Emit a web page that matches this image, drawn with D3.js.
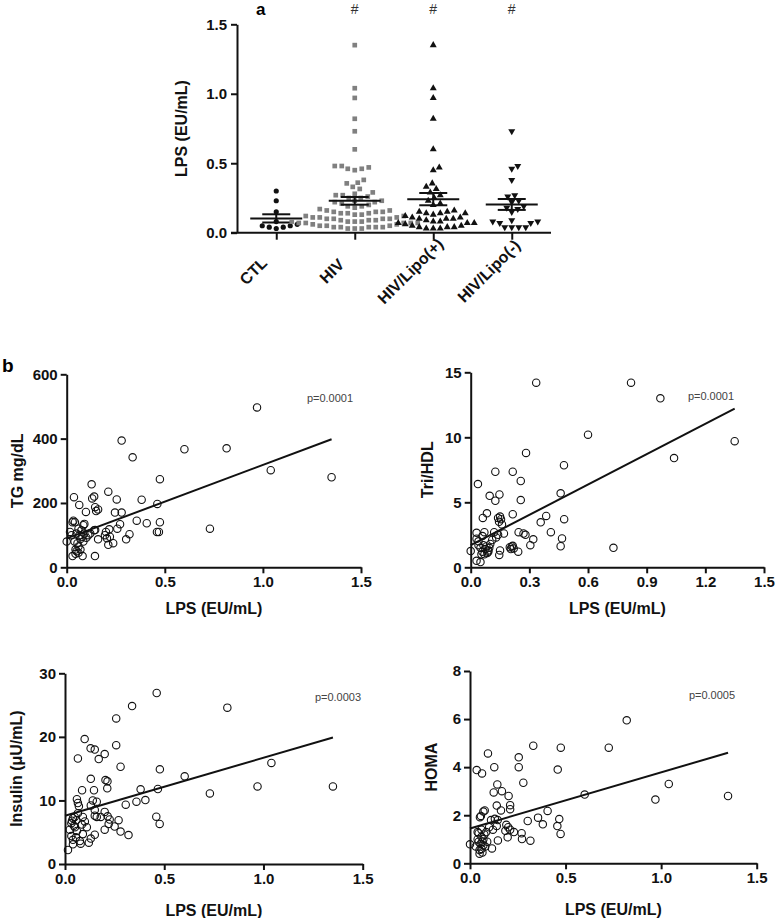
<!DOCTYPE html>
<html>
<head>
<meta charset="utf-8">
<script src="https://cdnjs.cloudflare.com/ajax/libs/d3/7.8.5/d3.min.js"></script>
<style>
  body { margin: 0; background: #fff; }
  svg { font-family: "Liberation Sans", Arial, sans-serif; }
  .axis .domain, .axis line { stroke: #111; stroke-width: 2; }
  .axis text { font-size: 15px; font-weight: bold; fill: #111; }
  .title { font-size: 16px; font-weight: bold; fill: #111; }
</style>
</head>
<body>
<svg id="fig" width="775" height="918"></svg>
<script>
// ---- panel a: LPS by group ----
var groups = ["CTL", "HIV", "HIV/Lipo(+)", "HIV/Lipo(-)"];
var ctl = [0.30, 0.23, 0.15, 0.08, 0.06, 0.05, 0.05, 0.04, 0.04, 0.03];
var lipoPos = [1.35, 1.04, 0.97, 0.82, 0.60, 0.47, 0.45, 0.355, 0.33, 0.315, 0.29, 0.27, 0.25, 0.23,
  0.21, 0.20, 0.16, 0.15, 0.15, 0.14, 0.14, 0.14, 0.13, 0.12, 0.11, 0.11, 0.10, 0.10, 0.10, 0.09,
  0.08, 0.08, 0.07, 0.07, 0.07, 0.06, 0.05, 0.05, 0.04, 0.04, 0.04, 0.03, 0.03, 0.03];
var lipoNeg = [0.73, 0.48, 0.46, 0.38, 0.27, 0.26, 0.23, 0.22, 0.19, 0.18, 0.17, 0.15, 0.09, 0.08,
  0.08, 0.07, 0.07, 0.04, 0.04, 0.04, 0.04];
var hiv = [1.35, 1.04, 0.97, 0.82, 0.73, 0.60, 0.48, 0.48, 0.47, 0.46, 0.46, 0.45, 0.38, 0.36, 0.355,
  0.33, 0.315, 0.29, 0.28, 0.27, 0.27, 0.26, 0.25, 0.25, 0.23, 0.23, 0.22, 0.22, 0.21, 0.20, 0.19,
  0.19, 0.18, 0.17, 0.16, 0.16, 0.15, 0.15, 0.15, 0.14, 0.14, 0.14, 0.13, 0.13, 0.12, 0.12, 0.11,
  0.11, 0.11, 0.10, 0.10, 0.10, 0.10, 0.09, 0.09, 0.09, 0.08, 0.08, 0.08, 0.08, 0.07, 0.07, 0.07,
  0.07, 0.07, 0.06, 0.06, 0.05, 0.05, 0.05, 0.04, 0.04, 0.04, 0.04, 0.04, 0.03, 0.03, 0.03];
var groupValues = [ctl, hiv, lipoPos, lipoNeg];
var groupMarks = ["", "#", "#", "#"];
var lpsTicks = [0, 0.5, 1.0, 1.5];

// ---- panel b: correlations with LPS ----
var tgPts = [[0.28,394],[0.336,342],[0.60,367],[0.815,370],[0.97,497],[1.04,302],[1.35,280],[0.73,120],
  [0.475,274],[0.127,258],[0.212,235],[0.037,218],[0.13,214],[0.14,220],[0.255,211],[0.382,210],
  [0.462,197],[0.064,194],[0.145,187],[0.16,180],[0.15,175],[0.098,172],[0.246,170],[0.28,170],
  [0.034,145],[0.042,140],[0.357,145],[0.408,137],[0.475,140],[0.085,131],[0.272,134],[0.258,120],
  [0.217,118],[0.46,110],[0.47,110],[0.017,110],[0.145,116],[0.05,105],[0.065,100],[0.08,95],
  [0.09,105],[0.07,88],[0.195,100],[0.205,90],[0.22,95],[0.32,103],[0.303,87],[0.237,75],[0.212,70],
  [0.16,87],[0.0,80],[0.04,80],[0.055,75],[0.06,65],[0.045,55],[0.05,50],[0.03,35],[0.081,35],
  [0.144,35],[0.06,45],[0.11,100],[0.12,105],[0.1,92],[0.075,115],[0.025,100],[0.085,80],[0.14,115],
  [0.2,110],[0.03,140],[0.06,120],[0.09,135],[0.045,42],[0.07,55]];
var triPts = [[1.35,9.7],[1.04,8.4],[0.97,13.0],[0.82,14.2],[0.73,1.5],[0.60,10.2],[0.335,14.2],
  [0.283,8.8],[0.477,7.85],[0.126,7.35],[0.215,7.35],[0.256,6.64],[0.037,6.4],[0.46,5.69],[0.147,5.6],
  [0.097,5.5],[0.126,5.12],[0.256,5.17],[0.083,4.15],[0.062,3.8],[0.14,3.8],[0.15,3.9],[0.145,3.5],
  [0.16,3.3],[0.215,4.08],[0.358,3.46],[0.386,3.95],[0.478,3.7],[0.41,2.7],[0.03,2.65],[0.07,2.7],
  [0.12,2.7],[0.17,2.6],[0.28,2.5],[0.32,2.15],[0.305,1.7],[0.467,2.22],[0.46,1.62],[0.245,2.7],
  [0.27,2.6],[0.2,1.55],[0.21,1.6],[0.22,1.45],[0.205,1.4],[0.215,1.65],[0.243,1.2],[0.146,0.95],
  [0.15,1.3],[0.05,1.5],[0.06,1.2],[0.07,1.0],[0.075,1.4],[0.08,1.6],[0.085,1.1],[0.09,1.3],[0.095,1.5],
  [0.065,1.7],[0.055,1.0],[0.1,1.8],[0.0,1.25],[0.03,0.5],[0.05,0.4],[0.03,2.2],[0.04,2.0],[0.06,2.4],
  [0.11,2.1],[0.13,2.3],[0.14,2.5],[0.155,3.7],[0.09,1.2],[0.04,1.7]];
var insPts = [[0.462,26.9],[0.338,24.85],[0.818,24.6],[0.258,22.9],[0.099,19.66],[0.129,18.2],[0.15,18.0],
  [0.258,18.7],[0.2,17.3],[0.065,16.6],[0.17,16.5],[0.28,15.3],[0.478,14.9],[0.603,13.8],[0.13,13.4],
  [0.204,13.2],[0.214,13.0],[0.213,11.9],[0.086,11.6],[0.146,11.6],[0.381,11.75],[0.468,11.8],
  [0.73,11.1],[0.97,12.2],[1.04,15.9],[1.35,12.2],[0.36,9.8],[0.405,10.05],[0.306,9.33],[0.06,10.2],
  [0.065,9.6],[0.07,9.1],[0.14,10.0],[0.16,9.8],[0.13,9.2],[0.2,8.2],[0.215,7.5],[0.225,7.0],[0.18,7.4],
  [0.15,7.6],[0.46,7.45],[0.477,6.3],[0.27,6.9],[0.28,5.1],[0.32,4.55],[0.25,5.9],[0.22,6.3],[0.2,5.4],
  [0.15,4.6],[0.13,4.0],[0.12,3.35],[0.09,4.7],[0.079,3.2],[0.04,3.1],[0.032,4.4],[0.024,5.4],[0.032,6.4],
  [0.04,7.2],[0.049,7.4],[0.057,6.9],[0.065,8.0],[0.09,7.4],[0.015,2.2],[0.15,8.5],[0.16,7.4],[0.05,5.8],
  [0.06,5.2],[0.045,6.0],[0.1,6.7],[0.075,3.6],[0.055,4.2],[0.11,5.8],[0.04,3.8],[0.085,6.2],[0.035,6.8]];
var homaPts = [[0.726,4.81],[0.331,4.89],[0.475,4.81],[0.094,4.57],[0.255,4.41],[0.255,4.0],[0.459,3.9],
  [0.035,3.88],[0.063,3.74],[0.127,4.0],[0.279,3.35],[0.143,3.28],[0.124,2.95],[0.167,3.0],[0.202,2.8],
  [0.6,2.86],[0.82,5.95],[0.97,2.65],[1.04,3.3],[1.35,2.8],[0.14,2.4],[0.21,2.42],[0.21,2.25],[0.162,2.2],
  [0.077,2.2],[0.07,2.15],[0.057,1.97],[0.052,1.92],[0.406,2.18],[0.356,1.9],[0.381,1.62],[0.467,1.84],
  [0.457,1.55],[0.474,1.22],[0.302,1.76],[0.11,1.8],[0.13,1.85],[0.145,1.8],[0.19,1.6],[0.2,1.5],
  [0.21,1.4],[0.185,1.35],[0.23,1.3],[0.27,1.25],[0.272,1.01],[0.316,0.94],[0.197,1.08],[0.146,0.95],
  [0.115,0.62],[0.0,0.79],[0.04,1.3],[0.045,0.9],[0.055,0.8],[0.065,0.9],[0.05,0.55],[0.06,0.6],
  [0.07,0.75],[0.04,1.0],[0.06,1.1],[0.07,1.0],[0.075,1.2],[0.06,1.4],[0.045,1.25],[0.05,0.4],
  [0.08,0.7],[0.09,0.9],[0.085,1.3],[0.03,0.7],[0.1,1.5],[0.12,1.4],[0.14,1.55],[0.065,0.45]];

var tgFit = [[0, 90], [1.35, 398]];
var triFit = [[0, 1.7], [1.35, 12.2]];
var insFit = [[0, 7.6], [1.35, 19.9]];
var homaFit = [[0, 1.45], [1.35, 4.6]];

var svg = d3.select("#fig");

// ---------- panel a ----------
var ax = d3.scalePoint().domain(groups).range([237, 551]).padding(0.5);
var ay = d3.scaleLinear().domain([0, 1.5]).range([232.7, 24.3]);

svg.append("g").attr("class", "axis").attr("transform", "translate(237,0)")
  .call(d3.axisLeft(ay).tickValues(lpsTicks).tickFormat(d3.format(".1f")).tickSize(6).tickSizeOuter(0).tickPadding(4));
var xa = svg.append("g").attr("class", "axis").attr("transform", "translate(0,232.7)")
  .call(d3.axisBottom(ax).tickSize(7).tickSizeOuter(0).tickFormat(""));
xa.select(".domain").attr("d", "M231,0H551");

groups.forEach(function (g) {
  svg.append("text").attr("class", "title")
    .attr("transform", "translate(" + (ax(g) - 19) + ",275) rotate(-45)")
    .attr("text-anchor", "middle").text(g);
});

svg.append("text").attr("class", "title")
  .attr("transform", "translate(187," + ay(0.75) + ") rotate(-90)")
  .attr("text-anchor", "middle").text("LPS (EU/mL)");

svg.append("text").attr("x", 256).attr("y", 15).attr("font-size", 17).attr("font-weight", "bold").text("a");

var shapes = [d3.symbolCircle, d3.symbolSquare, d3.symbolTriangle, d3.symbolTriangle];
var fills = ["#111", "#808080", "#111", "#111"];

function swarm(vals, y, d) {
  var out = [];
  vals.slice().sort(d3.ascending).forEach(function (v) {
    var py = y(v);
    for (var i = 0; i < 200; i++) {
      var dx = (i % 2 ? 1 : -1) * Math.ceil(i / 2);
      var ok = out.every(function (p) {
        return (p.dx - dx) * (p.dx - dx) + (p.py - py) * (p.py - py) >= d * d;
      });
      if (ok) { out.push({ v: v, dx: dx, py: py }); break; }
    }
  });
  return out;
}

groupValues.forEach(function (vals, i) {
  var cx = ax(groups[i]);
  var pts = swarm(vals, ay, 6.4);
  var sym = d3.symbol().type(shapes[i]).size(i === 1 ? 22 : 21);
  svg.append("g").selectAll("path").data(pts).enter().append("path")
    .attr("d", sym)
    .attr("transform", function (p) {
      return "translate(" + (cx + p.dx) + "," + p.py + ")" + (i === 3 ? " rotate(180)" : "");
    })
    .attr("fill", fills[i]);

  var m = d3.mean(vals), se = d3.deviation(vals) / Math.sqrt(vals.length);
  var gE = svg.append("g").attr("stroke", "#111").attr("stroke-width", 2);
  gE.append("line").attr("x1", cx).attr("x2", cx).attr("y1", ay(m - se)).attr("y2", ay(m + se));
  gE.append("line").attr("x1", cx - 26).attr("x2", cx + 26).attr("y1", ay(m)).attr("y2", ay(m));
  [m - se, m + se].forEach(function (v) {
    gE.append("line").attr("x1", cx - 14).attr("x2", cx + 14).attr("y1", ay(v)).attr("y2", ay(v));
  });

  if (groupMarks[i]) {
    svg.append("text").attr("x", cx).attr("y", 14).attr("text-anchor", "middle")
      .attr("font-size", 14).attr("fill", "#333").text(groupMarks[i]);
  }
});

// ---------- panel b ----------
svg.append("text").attr("x", 2).attr("y", 372).attr("font-size", 19).attr("font-weight", "bold").text("b");

function scatter(c) {
  var x = d3.scaleLinear().domain([0, 1.5]).range([c.left, c.right]);
  var y = d3.scaleLinear().domain([0, c.ymax]).range([c.bottom, c.top]);
  svg.append("g").attr("class", "axis").attr("transform", "translate(0," + c.bottom + ")")
    .call(d3.axisBottom(x).tickValues(c.xticks).tickFormat(d3.format(".1f")).tickSize(6).tickSizeOuter(0).tickPadding(3));
  svg.append("g").attr("class", "axis").attr("transform", "translate(" + c.left + ",0)")
    .call(d3.axisLeft(y).tickValues(c.yticks).tickSize(6).tickSizeOuter(0).tickPadding(3));

  svg.append("g").selectAll("circle").data(c.pts).enter().append("circle")
    .attr("cx", function (d) { return x(d[0]); })
    .attr("cy", function (d) { return y(d[1]); })
    .attr("r", 3.7)
    .attr("fill", "none").attr("stroke", "#111").attr("stroke-width", 1.1);

  svg.append("line")
    .attr("x1", x(c.fit[0][0])).attr("y1", y(c.fit[0][1]))
    .attr("x2", x(c.fit[1][0])).attr("y2", y(c.fit[1][1]))
    .attr("stroke", "#111").attr("stroke-width", 2);

  svg.append("text").attr("x", c.pX).attr("y", c.top + 28).attr("text-anchor", "middle")
    .attr("font-size", 11).attr("fill", "#444").text(c.p);

  svg.append("text").attr("class", "title")
    .attr("x", (c.left + c.right) / 2).attr("y", c.bottom + c.titleDy).attr("text-anchor", "middle")
    .text("LPS (EU/mL)");
  svg.append("text").attr("class", "title")
    .attr("transform", "translate(" + c.yTitleX + "," + (c.top + c.bottom) / 2 + ") rotate(-90)")
    .attr("text-anchor", "middle").text(c.ylabel);
}

scatter({ left: 66.7, right: 361, top: 374.3, bottom: 567.3, ymax: 600, yticks: [0, 200, 400, 600],
  xticks: [0, 0.5, 1.0, 1.5], pts: tgPts, fit: tgFit, p: "p=0.0001", pX: 330, ylabel: "TG mg/dL",
  yTitleX: 23, titleDy: 47 });
scatter({ left: 470.7, right: 764, top: 372.3, bottom: 567.3, ymax: 15, yticks: [0, 5, 10, 15],
  xticks: [0, 0.3, 0.6, 0.9, 1.2, 1.5], pts: triPts, fit: triFit, p: "p=0.0001", pX: 711, ylabel: "Tri/HDL",
  yTitleX: 433, titleDy: 47 });
scatter({ left: 65, right: 362.7, top: 673.3, bottom: 864, ymax: 30, yticks: [0, 10, 20, 30],
  xticks: [0, 0.5, 1.0, 1.5], pts: insPts, fit: insFit, p: "p=0.0003", pX: 338, ylabel: "Insulin (\u03bcU/mL)",
  yTitleX: 22, titleDy: 52 });
scatter({ left: 470, right: 756.7, top: 671, bottom: 863.3, ymax: 8, yticks: [0, 2, 4, 6, 8],
  xticks: [0, 0.5, 1.0, 1.5], pts: homaPts, fit: homaFit, p: "p=0.0005", pX: 712, ylabel: "HOMA",
  yTitleX: 437, titleDy: 52 });
</script>
</body>
</html>
